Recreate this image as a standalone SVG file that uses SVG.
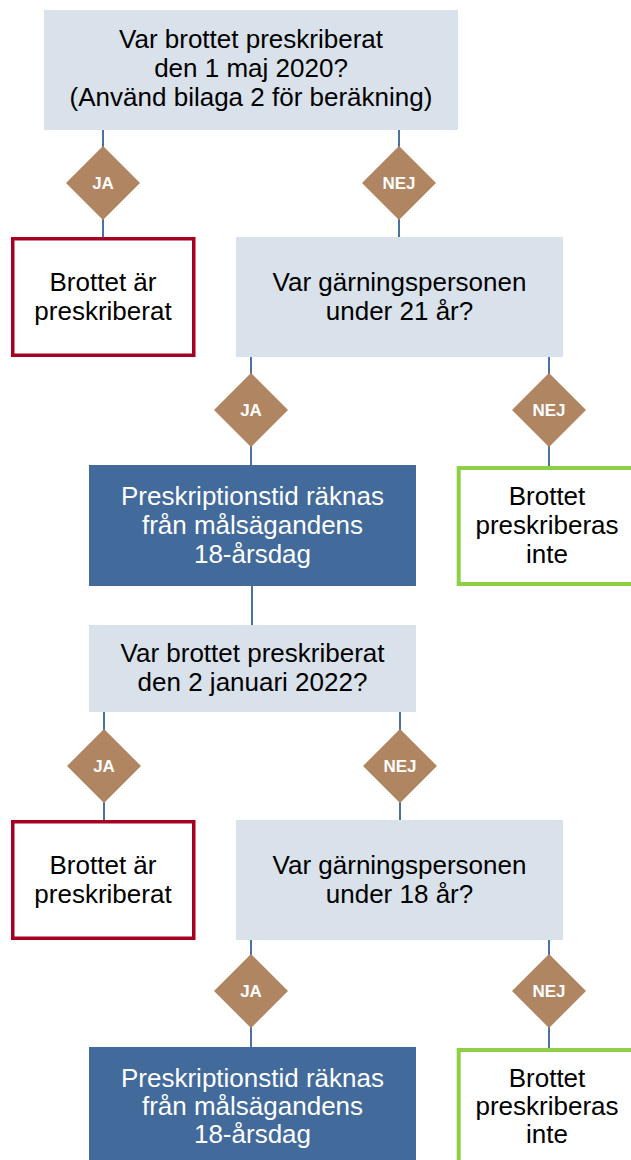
<svg xmlns="http://www.w3.org/2000/svg" width="631" height="1160" viewBox="0 0 631 1160">
<defs>
<style>
.q{fill:#d9e1ea}
.blue{fill:#426a9b}
.red{fill:#ffffff;stroke:#a50021;stroke-width:3.5}
.green{fill:#ffffff;stroke:#8fcf45;stroke-width:4}
.dia{fill:#b08562}
.t{font-family:"Liberation Sans",Arial,sans-serif;font-size:26px;fill:#000;text-anchor:middle}
.tw{font-family:"Liberation Sans",Arial,sans-serif;font-size:26px;fill:#ffffff;text-anchor:middle}
.lbl{font-family:"Liberation Sans",Arial,sans-serif;font-size:17px;font-weight:bold;fill:#ffffff;text-anchor:middle}
.c{stroke:#4a72a0;stroke-width:2;fill:none}
</style>
</defs>
<rect width="631" height="1160" fill="#ffffff"/>
<g id="connectors">
<path class="c" d="M103,130V237M399,130V237"/>
<path class="c" d="M251,357V466M549,357V466"/>
<path class="c" d="M252,586V625"/>
<path class="c" d="M104,712V820M400,712V820"/>
<path class="c" d="M251,940V1047M549,940V1048"/>
</g>
<g id="q1"><rect class="q" x="44" y="10" width="414" height="120"/>
<text class="t" x="251" y="48">Var brottet preskriberat</text>
<text class="t" x="251" y="77">den 1 maj 2020?</text>
<text class="t" x="251" y="106">(Använd bilaga 2 för beräkning)</text></g>
<g id="d1ja"><path class="dia" d="M103,146L140,183L103,220L66,183Z"/><text class="lbl" x="103" y="189">JA</text></g>
<g id="d1nej"><path class="dia" d="M399,146L436,183L399,220L362,183Z"/><text class="lbl" x="399" y="189">NEJ</text></g>
<g id="r1"><rect class="red" x="12.75" y="238.75" width="181" height="116.5"/>
<text class="t" x="103" y="291">Brottet är</text>
<text class="t" x="103" y="320">preskriberat</text></g>
<g id="q2"><rect class="q" x="236" y="237" width="327" height="120"/>
<text class="t" x="399.5" y="291">Var gärningspersonen</text>
<text class="t" x="399.5" y="320">under 21 år?</text></g>
<g id="d2ja"><path class="dia" d="M251,373L288,410L251,447L214,410Z"/><text class="lbl" x="251" y="416">JA</text></g>
<g id="d2nej"><path class="dia" d="M549,373L586,410L549,447L512,410Z"/><text class="lbl" x="549" y="416">NEJ</text></g>
<g id="b1"><rect class="blue" x="89" y="465" width="327" height="121"/>
<text class="tw" x="252.5" y="505">Preskriptionstid räknas</text>
<text class="tw" x="252.5" y="534">från målsägandens</text>
<text class="tw" x="252.5" y="563">18-årsdag</text></g>
<g id="g1"><rect class="green" x="458.7" y="468" width="200" height="116"/>
<text class="t" x="547" y="505">Brottet</text>
<text class="t" x="547" y="534">preskriberas</text>
<text class="t" x="547" y="563">inte</text></g>
<g id="q3"><rect class="q" x="89" y="625" width="327" height="87"/>
<text class="t" x="252.5" y="662">Var brottet preskriberat</text>
<text class="t" x="252.5" y="691">den 2 januari 2022?</text></g>
<g id="d3ja"><path class="dia" d="M104,729L141,766L104,803L67,766Z"/><text class="lbl" x="104" y="772">JA</text></g>
<g id="d3nej"><path class="dia" d="M400,729L437,766L400,803L363,766Z"/><text class="lbl" x="400" y="772">NEJ</text></g>
<g id="r2"><rect class="red" x="12.75" y="821.75" width="181" height="116.5"/>
<text class="t" x="103" y="874">Brottet är</text>
<text class="t" x="103" y="903">preskriberat</text></g>
<g id="q4"><rect class="q" x="236" y="820" width="327" height="120"/>
<text class="t" x="399.5" y="874">Var gärningspersonen</text>
<text class="t" x="399.5" y="903">under 18 år?</text></g>
<g id="d4ja"><path class="dia" d="M251,954L288,991L251,1028L214,991Z"/><text class="lbl" x="251" y="997">JA</text></g>
<g id="d4nej"><path class="dia" d="M549,954L586,991L549,1028L512,991Z"/><text class="lbl" x="549" y="997">NEJ</text></g>
<g id="b2"><rect class="blue" x="89" y="1047" width="327" height="125"/>
<text class="tw" x="252.5" y="1087">Preskriptionstid räknas</text>
<text class="tw" x="252.5" y="1115">från målsägandens</text>
<text class="tw" x="252.5" y="1143">18-årsdag</text></g>
<g id="g2"><rect class="green" x="458.7" y="1050" width="200" height="130"/>
<text class="t" x="547" y="1087">Brottet</text>
<text class="t" x="547" y="1115">preskriberas</text>
<text class="t" x="547" y="1143">inte</text></g>
</svg>
